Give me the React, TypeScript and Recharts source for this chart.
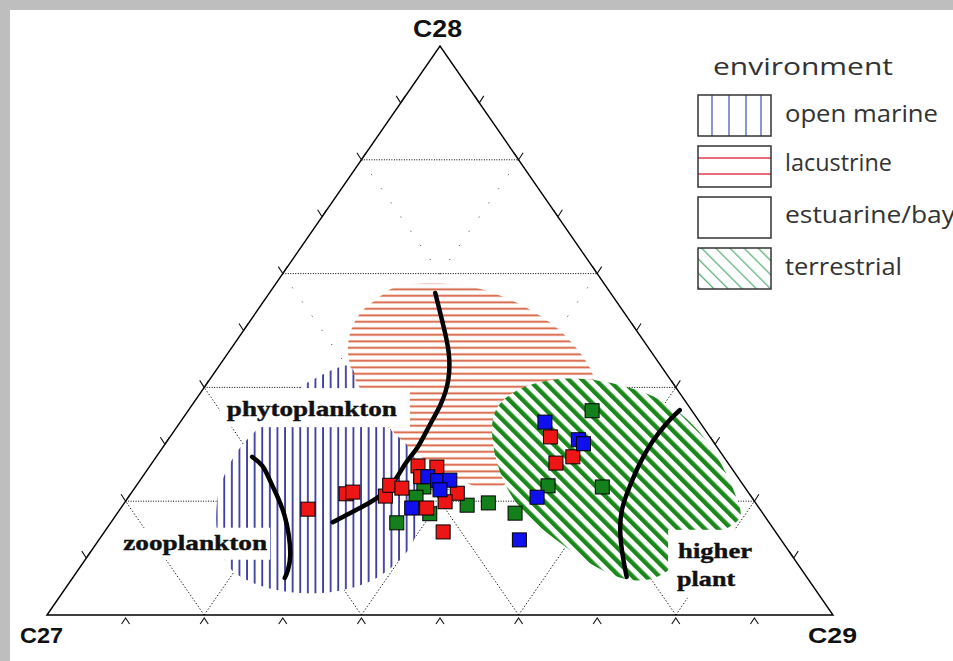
import React from 'react';
import { ScatterChart, Scatter, XAxis, YAxis, Curve } from 'recharts';

type Tern = [number, number, number]; // [C27, C28, C29] in %
type Pair = [number, number]; // [C28, C29] in %, C27 = 100 - C28 - C29

const GRID_LEVELS = [20, 40, 60, 80];
const TICK_LEVELS = [10, 20, 30, 40, 50, 60, 70, 80, 90];
const VERTEX_LABELS = ['C27', 'C28', 'C29'];
const LEGEND_TITLE = 'environment';
const LEGEND_ITEMS = ['open marine', 'lacustrine', 'estuarine/bay', 'terrestrial'];

// sample compositions [C27, C28, C29]
const redSamples: Tern[] = [
  [57.5, 18.6, 23.9], [51.3, 21.3, 27.4], [50.3, 21.6, 28.1], [46.5, 20.9, 32.6],
  [45.0, 22.8, 32.2], [43.7, 22.3, 34.0], [39.7, 26.2, 34.1], [40.3, 24.3, 35.4],
  [37.4, 26.0, 36.6], [37.1, 21.4, 41.5], [39.4, 19.9, 40.7], [42.3, 18.8, 38.9],
  [42.3, 14.6, 43.1], [20.3, 31.3, 48.4], [19.2, 27.8, 53.0], [21.9, 26.7, 51.4],
];
const blueSamples: Tern[] = [
  [39.4, 24.3, 36.3], [38.5, 23.6, 37.9], [36.9, 23.7, 39.4], [39.0, 22.0, 39.0],
  [44.2, 18.8, 37.0], [19.7, 33.9, 46.4], [17.0, 30.8, 52.2], [16.7, 30.1, 53.2],
  [27.3, 20.7, 52.0], [33.3, 13.2, 53.5],
];
const greenSamples: Tern[] = [
  [40.8, 22.5, 36.7], [42.7, 20.7, 36.6], [42.4, 17.8, 39.8], [47.4, 16.2, 36.4],
  [36.9, 19.3, 43.8], [34.0, 19.7, 46.3], [31.5, 17.9, 50.6], [24.9, 22.7, 52.4],
  [12.7, 35.9, 51.4], [18.1, 22.5, 59.4],
];

// environment fields, outlines as [C28, C29]
const openMarineOutline: Pair[] = [
  [40.1, 12.1], [41.3, 13.1], [42.7, 14.3], [43.8, 15.6], [44.1, 16.8], [41.3, 18.7],
  [37.8, 21.6], [34.3, 25.2], [31.6, 28.5], [29.9, 31.2], [26.4, 34.0], [20.2, 37.4],
  [14.9, 39.7], [11.8, 40.5], [8.8, 39.9], [6.7, 39.0], [5.1, 37.3], [4.2, 35.2],
  [3.7, 32.3], [3.9, 29.0], [4.7, 25.4], [6.2, 22.1], [7.9, 19.3], [10.5, 17.0],
  [14.9, 14.0], [19.3, 11.9], [22.3, 10.7], [25.5, 10.1], [27.9, 9.8], [30.1, 9.9],
  [31.8, 10.2], [33.4, 10.7], [35.7, 11.2], [38.1, 11.6],
];
const lacustrineOutline: Pair[] = [
  [58.3, 16.0], [58.3, 23.4], [56.9, 27.9], [54.8, 32.8], [51.3, 38.7], [47.8, 43.0],
  [43.9, 47.1], [40.4, 49.8], [35.2, 51.5], [30.8, 50.5], [26.9, 48.0], [23.7, 47.1],
  [22.1, 46.6], [22.1, 44.0], [23.7, 40.7], [26.2, 35.9], [29.0, 31.9], [32.2, 27.8],
  [36.0, 23.9], [39.2, 20.5], [42.2, 17.7], [45.7, 15.4], [48.3, 14.1], [51.3, 13.3],
  [53.6, 13.3], [55.0, 14.0], [56.9, 14.7],
];
const terrestrialOutline: Pair[] = [
  [36.0, 38.7], [39.0, 39.4], [40.8, 41.4], [41.8, 45.3], [41.3, 49.7], [39.5, 56.1],
  [36.0, 62.5], [30.8, 68.6], [25.0, 74.0], [19.3, 78.5], [16.7, 80.2], [14.6, 78.3],
  [11.1, 76.2], [6.7, 75.0], [5.8, 72.5], [6.5, 69.4], [8.3, 65.8], [10.9, 61.5],
  [14.4, 56.4], [17.9, 51.6], [22.0, 47.5], [26.7, 43.8], [31.6, 40.7],
];

// organic-source boundaries [C28, C29]
const zooPhytoBoundary: Pair[] = [
  [27.8, 12.2], [26.2, 14.3], [23.7, 16.5], [20.7, 19.0], [17.6, 21.4], [14.1, 23.7],
  [10.5, 25.7], [7.9, 26.7], [6.5, 27.0],
];
const phytoLacBoundary: Pair[] = [
  [56.6, 21.1], [51.0, 24.9], [46.2, 28.0], [41.3, 30.4], [36.9, 31.6], [33.4, 32.0],
  [29.5, 32.4], [26.4, 32.3], [22.0, 32.3], [18.8, 30.4], [16.3, 28.2],
];
const higherPlantBoundary: Pair[] = [
  [36.0, 62.5], [33.7, 62.0], [30.4, 61.8], [26.7, 62.1], [22.8, 62.8], [18.5, 63.9],
  [14.1, 65.9], [10.0, 68.3], [6.7, 70.4],
];

const FIELD_LABELS = [
  { id: 'phyto', lines: ['phytoplankton'], c28: 36.0, c29: 15.7 },
  { id: 'zoo', lines: ['zooplankton'], c28: 12.7, c29: 12.5 },
  { id: 'higher', lines: ['higher', 'plant'], c28: 9.0, c29: 80.5 },
];

// ---------- helpers ----------
const toPoint = (c28: number, c29: number) => ({ x: c29 + c28 / 2, y: c28 });
const fromPair = (p: Pair) => toPoint(p[0], p[1]);
const fromTern = (t: Tern) => toPoint(t[1], t[2]);

const noShape = () => <g />;

const LABEL_LAYOUT: Record<string, { box: number[]; texts: number[][] }> = {
  phyto: { box: [-92, -22, 190, 39], texts: [[-85, 6, 170]] },
  zoo: { box: [-80, -15, 155, 32], texts: [[-72, 7, 144]] },
  higher: { box: [-47, -34, 94, 68], texts: [[-37, -6, 74], [-38, 22, 58]] },
};

const PATTERNS = (
  <defs>
    <pattern id="hatchBlue" patternUnits="userSpaceOnUse" width="7.6" height="10">
      <rect x="3" y="0" width="1.7" height="10" fill="#30309a" />
    </pattern>
    <pattern id="hatchRed" patternUnits="userSpaceOnUse" width="10" height="6.5">
      <rect x="0" y="2.4" width="10" height="1.8" fill="#d65a38" />
    </pattern>
    <pattern id="hatchGreen" patternUnits="userSpaceOnUse" width="9.4" height="20" patternTransform="rotate(-45)">
      <rect x="0" y="0" width="9.4" height="20" fill="#ffffff" />
      <rect x="0" y="0" width="4.4" height="20" fill="#1a881a" />
    </pattern>
  </defs>
);

const regionLine = (fill: string, withDefs = false) => (p: any) => (
  <g>
    {withDefs ? PATTERNS : null}
    <Curve points={p.points} type="basisClosed" fill={fill} stroke="none" />
  </g>
);

const square = (color: string) => (p: any) => (
  <rect x={p.cx - 7} y={p.cy - 7} width={14} height={14} fill={color} stroke="#000" strokeWidth={1} />
);

const sideTick = (p: any) => (
  <path d={`M${p.cx - 4.5},${p.cy - 7}L${p.cx},${p.cy}L${p.cx + 4.5},${p.cy - 7}`} stroke="#111" strokeWidth={1.1} fill="none" />
);
const baseTick = (p: any) => (
  <path d={`M${p.cx - 4},${p.cy + 9}L${p.cx},${p.cy + 3}L${p.cx + 4},${p.cy + 9}`} stroke="#111" strokeWidth={1.1} fill="none" />
);

// grid segments derived from the grid levels
type Seg = { key: string; pts: Pair[]; dash: string; color: string };
const gridSegments: Seg[] = [];
GRID_LEVELS.forEach((k) => {
  const top = 100 - k;
  const split = Math.min(40, top);
  gridSegments.push({ key: `h${k}`, pts: [[k, 0], [k, 100 - k]], dash: '1 1.5', color: '#000' });
  gridSegments.push({ key: `a${k}lo`, pts: [[0, 100 - k], [split, 100 - k - split]], dash: '1.3 2', color: '#111' });
  gridSegments.push({ key: `b${k}lo`, pts: [[0, k], [split, k]], dash: '1.3 2', color: '#111' });
  if (top > 40) {
    gridSegments.push({ key: `a${k}hi`, pts: [[40, 60 - k], [top, 0]], dash: '1.2 16', color: '#555' });
    gridSegments.push({ key: `b${k}hi`, pts: [[40, k], [top, k]], dash: '1.2 16', color: '#555' });
  }
});

const edgePoints = [toPoint(0, 0), toPoint(100, 0), toPoint(0, 100)];
const leftTicks = TICK_LEVELS.map((k) => toPoint(k, 0));
const rightTicks = TICK_LEVELS.map((k) => toPoint(k, 100 - k));
const baseTicks = TICK_LEVELS.map((k) => toPoint(0, k));

const blueRegion = openMarineOutline.map(fromPair);
const redRegion = lacustrineOutline.map(fromPair);
const greenRegion = terrestrialOutline.map(fromPair);

const SERIF = "'Liberation Serif', 'Times New Roman', serif";
const SANS = "'Liberation Sans', Arial, sans-serif";
const LEGEND_FONT = "'Open Sans', 'DejaVu Sans', sans-serif";

function LegendAndVertexLabels() {
  const boxY = [95, 146, 197, 248];
  const textY = [122, 171, 223, 275];
  const textLen = [153, 107, 170, 117];
  return (
    <svg width={953} height={661} style={{ position: 'absolute', left: 0, top: 0, pointerEvents: 'none' }}>
      <defs>
        <pattern id="legendGreen2" patternUnits="userSpaceOnUse" width="10" height="20" patternTransform="rotate(-45)">
          <rect x="0" y="0" width="1.3" height="20" fill="#5fb07e" />
        </pattern>
      </defs>
      <text x={20} y={643} fontFamily={SANS} fontWeight="bold" fontSize={22} fill="#111" textLength={43} lengthAdjust="spacingAndGlyphs">{VERTEX_LABELS[0]}</text>
      <text x={413} y={37} fontFamily={SANS} fontWeight="bold" fontSize={23} fill="#111" textLength={49} lengthAdjust="spacingAndGlyphs">{VERTEX_LABELS[1]}</text>
      <text x={808} y={643} fontFamily={SANS} fontWeight="bold" fontSize={22} fill="#111" textLength={49} lengthAdjust="spacingAndGlyphs">{VERTEX_LABELS[2]}</text>

      <text x={713} y={75} fontFamily={LEGEND_FONT} fontSize={24} fill="#333" textLength={180} lengthAdjust="spacingAndGlyphs">{LEGEND_TITLE}</text>
      {LEGEND_ITEMS.map((name, i) => {
        const y = boxY[i];
        return (
          <g key={name}>
            <rect x={698} y={y} width={73} height={41} fill="#fff" />
            {i === 0 && [14, 31, 48, 63].map((dx) => (
              <line key={dx} x1={698 + dx} y1={y} x2={698 + dx} y2={y + 41} stroke="#4a5fc0" strokeWidth={1.3} />
            ))}
            {i === 1 && [12, 28].map((dy) => (
              <line key={dy} x1={698} y1={y + dy} x2={771} y2={y + dy} stroke="#e0384a" strokeWidth={1.4} />
            ))}
            {i === 3 && <rect x={698} y={y} width={73} height={41} fill="url(#legendGreen2)" />}
            <rect x={698} y={y} width={73} height={41} fill="none" stroke="#333" strokeWidth={1.5} />
            <text x={785} y={textY[i]} fontFamily={LEGEND_FONT} fontSize={23} fill="#333" textLength={textLen[i]} lengthAdjust="spacingAndGlyphs">{name}</text>
          </g>
        );
      })}
    </svg>
  );
}

export default function App() {
  return (
    <div style={{ position: 'absolute', left: 0, top: 0, width: 953, height: 661, background: '#bebebe', overflow: 'hidden' }}>
      <div style={{ position: 'absolute', left: 10, top: 10, width: 943, height: 651, background: '#fff' }} />
      <div style={{ position: 'absolute', left: 0, top: 0 }}>
        <ScatterChart width={953} height={661} margin={{ top: 46, right: 120, bottom: 46, left: 47 }}>
          <XAxis type="number" dataKey="x" domain={[0, 100]} hide />
          <YAxis type="number" dataKey="y" domain={[0, 100]} hide />

          {gridSegments.map((s) => (
            <Scatter key={s.key} name={s.key} data={s.pts.map(fromPair)} isAnimationActive={false} shape={noShape}
              line={{ stroke: s.color, strokeWidth: 1, strokeDasharray: s.dash }} lineType="joint" lineJointType="linear" />
          ))}

          <Scatter name="omWhite" data={blueRegion} isAnimationActive={false} shape={noShape} line={regionLine('#ffffff', true)} lineType="joint" />
          <Scatter name="lacWhite" data={redRegion} isAnimationActive={false} shape={noShape} line={regionLine('#ffffff')} lineType="joint" />
          <Scatter name="omHatch" data={blueRegion} isAnimationActive={false} shape={noShape} line={regionLine('url(#hatchBlue)')} lineType="joint" />
          <Scatter name="lacHatch" data={redRegion} isAnimationActive={false} shape={noShape} line={regionLine('url(#hatchRed)')} lineType="joint" />
          <Scatter name="terHatch" data={greenRegion} isAnimationActive={false} shape={noShape} line={regionLine('url(#hatchGreen)')} lineType="joint" />

          {FIELD_LABELS.map((l) => {
            const lay = LABEL_LAYOUT[l.id];
            return (
              <Scatter key={l.id} name={l.id} data={[toPoint(l.c28, l.c29)]} isAnimationActive={false}
                shape={(p: any) => (
                  <g>
                    <rect x={p.cx + lay.box[0]} y={p.cy + lay.box[1]} width={lay.box[2]} height={lay.box[3]} fill="#fff" />
                    {l.lines.map((t, i) => (
                      <text key={t} x={p.cx + lay.texts[i][0]} y={p.cy + lay.texts[i][1]} fontFamily={SERIF} fontWeight="bold"
                        fontSize={21} fill="#111" stroke="#111" strokeWidth={0.4} textLength={lay.texts[i][2]} lengthAdjust="spacingAndGlyphs">{t}</text>
                    ))}
                  </g>
                )} />
            );
          })}

          <Scatter name="zooPhyto" data={zooPhytoBoundary.map(fromPair)} isAnimationActive={false} shape={noShape}
            line={{ stroke: '#000', strokeWidth: 4.5, strokeLinecap: 'round' }} lineType="joint" lineJointType="natural" />
          <Scatter name="phytoLac" data={phytoLacBoundary.map(fromPair)} isAnimationActive={false} shape={noShape}
            line={{ stroke: '#000', strokeWidth: 4.5, strokeLinecap: 'round' }} lineType="joint" lineJointType="natural" />
          <Scatter name="higherPlant" data={higherPlantBoundary.map(fromPair)} isAnimationActive={false} shape={noShape}
            line={{ stroke: '#000', strokeWidth: 4.5, strokeLinecap: 'round' }} lineType="joint" lineJointType="natural" />

          <Scatter name="edges" data={edgePoints} isAnimationActive={false} shape={noShape}
            line={{ stroke: '#000', strokeWidth: 1.4 }} lineType="joint" lineJointType="linearClosed" />
          <Scatter name="leftTicks" data={leftTicks} isAnimationActive={false} shape={sideTick} />
          <Scatter name="rightTicks" data={rightTicks} isAnimationActive={false} shape={sideTick} />
          <Scatter name="baseTicks" data={baseTicks} isAnimationActive={false} shape={baseTick} />

          <Scatter name="green" data={greenSamples.map(fromTern)} isAnimationActive={false} shape={square('#13801c')} />
          <Scatter name="red" data={redSamples.map(fromTern)} isAnimationActive={false} shape={square('#ee1515')} />
          <Scatter name="blue" data={blueSamples.map(fromTern)} isAnimationActive={false} shape={square('#1010ee')} />
        </ScatterChart>
      </div>
      <LegendAndVertexLabels />
    </div>
  );
}
